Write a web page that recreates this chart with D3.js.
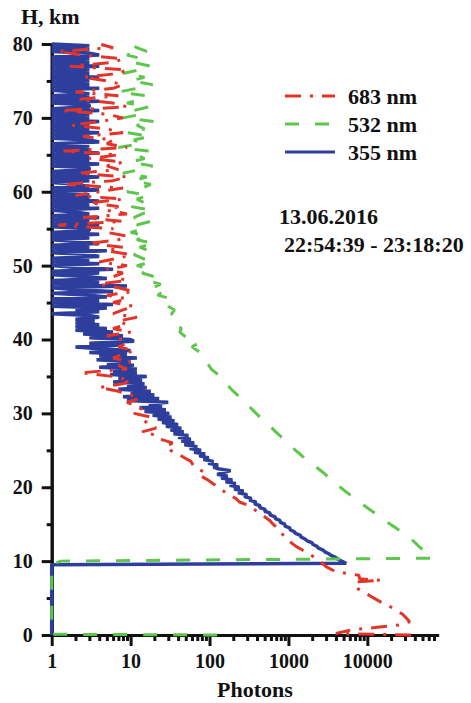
<!DOCTYPE html>
<html>
<head>
<meta charset="utf-8">
<script src="https://cdn.jsdelivr.net/npm/d3@7"></script>
<style>
  body { margin: 0; background: #fff; }
  svg { display: block; }
  text { font-family: "Liberation Serif", "Times New Roman", serif; font-weight: bold; fill: #111; }
</style>
</head>
<body>
<div id="chart"></div>
<script>
// Lidar photon-count profiles.
const seriesNames = ["683 nm", "532 nm", "355 nm"];
const xTickValues = [1, 10, 100, 1000, 10000];
const yTickValues = [0, 10, 20, 30, 40, 50, 60, 70, 80];
const dateLabel = "13.06.2016";
const timeLabel = "22:54:39 - 23:18:20";

// 355 nm: a few points below 10 km, then a 0.25 km grid from 10 to 80 km
const blueLowH = [0, 9.5, 9.7];
const blueLowP = [1, 1, 5400];
const blueGridStart = 10, blueGridStep = 0.25;
const blueGrid = [
  4700, 4250, 3950, 3500, 3250, 2900, 2750, 2400,   // 10
  2300, 2050, 1980, 1720, 1620, 1450, 1420, 1230,   // 12
  1180, 1050, 1040, 900, 900, 790, 780, 680,        // 14
  680, 580, 590, 500, 510, 430, 440, 370,           // 16
  390, 320, 340, 275, 300, 230, 270, 205,           // 18
  240, 180, 215, 160, 195, 140, 170, 125,           // 20
  150, 185, 128, 112, 128, 96, 112, 84,             // 22
  98, 74, 88, 64, 78, 56, 70, 48,                   // 24
  64, 44, 58, 40, 54, 35, 47, 32,                   // 26
  44, 28, 40, 25, 36, 22, 33, 19,                   // 28
  31, 15, 28, 13, 25, 17, 30, 9,                    // 30
  23, 8, 20, 10, 18, 7, 16, 9,                      // 32
  15, 6, 14, 7, 16, 5.5, 12, 6,                     // 34
  12, 4, 11, 5, 10, 3.7, 12, 4,                     // 36
  9, 3, 10, 4, 2, 8, 3, 11,                         // 38
  10, 3, 8, 2.5, 6, 2, 5, 2,                        // 40
  4, 2, 3.5, 2, 4, 3, 1, 4,                         // 42
  2, 5, 1, 6, 1, 4, 1, 5,                           // 44
  3, 1, 6, 2, 1, 9, 1, 4,                           // 46
  1, 5, 3, 1, 4, 1, 6, 2,                           // 48
  1, 4, 1, 3, 1, 4, 3, 1,                           // 50
  5, 1, 3, 1, 4, 2, 1, 3,                           // 52
  1, 4, 1, 3, 3, 1, 4, 1,                           // 54
  3, 1, 4, 1, 3, 2, 1, 4,                           // 56
  1, 3, 1, 4, 1, 3, 1, 3,                           // 58
  1, 4, 1, 3, 2, 1, 3, 1,                           // 60
  4, 1, 3, 1, 3, 3, 1, 4,                           // 62
  1, 3, 1, 3, 1, 4, 1, 3,                           // 64
  1, 3, 1, 4, 3, 1, 3, 1,                           // 66
  4, 1, 3, 1, 3, 1, 4, 1,                           // 68
  3, 1, 3, 1, 4, 1, 3, 3,                           // 70
  1, 4, 1, 3, 1, 3, 2, 1,                           // 72
  4, 1, 3, 1, 3, 1, 4, 1,                           // 74
  3, 1, 3, 1, 4, 1, 3, 1,                           // 76
  3, 1, 4, 3, 1, 3, 1, 3,                           // 78
  1                                                 // 80
];

// 683 nm: near-ground points, then a 0.5 km grid from 10 to 80 km
const redLowH = [0, 0.2, 0.7, 1.0, 1.35, 1.8, 2.8, 3.6, 4.3, 5.2, 5.9, 6.5, 7.2, 7.4, 7.6, 8.1, 8.3, 8.6, 9.25];
const redLowP = [36000, 4000, 6300, 12400, 25000, 34500, 28000, 21500, 15800, 11200, 8700, 6900, 7500, 15000, 8000, 7800, 5700, 3900, 3000];
const redGridStart = 10, redGridStep = 0.5;
const redGrid = [
  2500, 2150, 1800, 1500, 1250, 1080, 940, 860, 800, 720,   // 10
  640, 580, 500, 430, 370, 320, 240, 215, 170, 150,         // 15
  130, 110, 95, 78, 88, 70, 62, 58, 48, 40,                 // 20
  32, 28, 34, 24, 22, 14, 21, 17, 15, 18,                   // 25
  11, 14, 12, 9, 13, 10, 7, 4, 8, 10,                       // 30
  6, 2.3, 9, 7, 10, 6, 8, 11, 7, 9,                         // 35
  8, 5, 10, 6, 9, 7, 12, 6, 8, 11,                          // 40
  6, 9, 5, 11, 7, 4, 9, 6, 8, 5,                            // 45
  9, 4, 7, 10, 5, 8, 3, 7, 9, 5,                            // 50
  6, 1.2, 8, 2.5, 9, 5, 7, 3, 8, 2,                         // 55
  4, 8, 1.5, 6, 9, 2.2, 7, 5, 8, 3,                         // 60
  7, 1.4, 9, 5, 6, 2.5, 8, 5, 1.8, 4,                       // 65
  8, 5, 1.3, 9, 6, 2.2, 7, 2, 6, 8,                         // 70
  5, 2.5, 7, 9, 1.7, 6, 8, 2.4, 1.2, 6,                     // 75
  4                                                         // 80
];

// 532 nm: near-ground points, then a 0.5 km grid from 15 to 80 km
const greenLowH = [0, 0.1, 9.5, 10.0, 10.4, 11, 12, 13, 14, 14.5];
const greenLowP = [125, 1, 1, 1.3, 67000, 58000, 45000, 36000, 27000, 23000];
const greenGridStart = 15, greenGridStep = 0.5;
const greenGrid = [
  19500, 16800, 14400, 12500, 10700, 9200, 7950, 6900, 6000, 5200,  // 15
  4550, 4000, 3500, 3100, 2750, 2400, 2100, 1850, 1580, 1400,       // 20
  1230, 1100, 980, 870, 780, 690, 620, 550, 490, 435,               // 25
  390, 350, 315, 285, 250, 225, 200, 180, 165, 150,                 // 30
  138, 120, 105, 98, 92, 87, 82, 70, 60, 72,                        // 35
  55, 48, 42, 44, 38, 40, 35, 33, 36, 30,                           // 40
  28, 33, 22, 26, 19, 24, 16, 20, 14, 18,                           // 45
  12, 19, 14, 11, 17, 13, 20, 12, 16, 10,                           // 50
  15, 12, 18, 11, 14, 19, 10, 15, 12, 17,                           // 55
  9, 14, 18, 11, 16, 8, 13, 19, 10, 15,                             // 60
  12, 17, 7, 14, 11, 18, 9, 15, 12, 20,                             // 65
  8, 14, 11, 17, 9, 13, 16, 7, 12, 19,                              // 70
  10, 15, 8, 13, 18, 11, 14, 9, 16, 12,                             // 75
  10                                                                // 80
];

const colors = {"683 nm": "#e3342a", "532 nm": "#5ec64c", "355 nm": "#2e3e9d"};
const dashes = {"683 nm": "16,9,3,9", "532 nm": "14,16", "355 nm": null};
const widths = {"683 nm": 3, "532 nm": 3, "355 nm": 3.5};

const width = 471, height = 703;
const plotLeft = 51.7, plotRight = 438.6, plotTop = 44, plotBottom = 635;

function buildProfile(lowH, lowP, start, step, grid) {
  const pts = lowH.map((h, i) => ({h: h, p: lowP[i]}));
  grid.forEach((p, i) => pts.push({h: start + i * step, p: p}));
  return pts;
}

const profiles = {
  "355 nm": buildProfile(blueLowH, blueLowP, blueGridStart, blueGridStep, blueGrid),
  "532 nm": buildProfile(greenLowH, greenLowP, greenGridStart, greenGridStep, greenGrid),
  "683 nm": buildProfile(redLowH, redLowP, redGridStart, redGridStep, redGrid)
};

const svg = d3.select("#chart").append("svg")
    .attr("width", width)
    .attr("height", height);

const x = d3.scaleLog().domain([1, 80000]).range([plotLeft, plotRight]);
const y = d3.scaleLinear().domain([0, 80]).range([plotBottom, plotTop]);

// minor ticks
const xMinor = [];
[1, 10, 100, 1000, 10000].forEach(d => {
  for (let k = 2; k <= 9; k++) if (d * k < 80000) xMinor.push(d * k);
});
const yMinor = yTickValues.slice(0, -1).map(v => v + 5);

function styleAxis(g) {
  g.select(".domain").attr("stroke", "#111").attr("stroke-width", 3);
  g.selectAll(".tick line").attr("stroke", "#111").attr("stroke-width", 3);
  g.selectAll(".tick text").style("font-size", "20px").attr("fill", "#111");
}

svg.append("g")
    .attr("transform", `translate(0,${plotBottom})`)
    .call(d3.axisBottom(x).tickValues(xMinor).tickSize(6).tickSizeOuter(0).tickFormat(""))
    .call(styleAxis);

svg.append("g")
    .attr("transform", `translate(0,${plotBottom})`)
    .call(d3.axisBottom(x).tickValues(xTickValues).tickSize(11).tickSizeOuter(0)
      .tickPadding(8).tickFormat(d3.format("d")))
    .call(styleAxis);

svg.append("g")
    .attr("transform", `translate(${plotLeft},0)`)
    .call(d3.axisLeft(y).tickValues(yMinor).tickSize(5).tickSizeOuter(0).tickFormat(""))
    .call(styleAxis);

svg.append("g")
    .attr("transform", `translate(${plotLeft},0)`)
    .call(d3.axisLeft(y).tickValues(yTickValues).tickSize(10).tickSizeOuter(0).tickPadding(9))
    .call(styleAxis);

// profiles (blue first, red on top)
const line = d3.line()
    .x(d => x(d.p))
    .y(d => y(d.h));

["355 nm", "532 nm", "683 nm"].forEach(name => {
  svg.append("path")
      .datum(profiles[name])
      .attr("fill", "none")
      .attr("stroke", colors[name])
      .attr("stroke-width", widths[name])
      .attr("stroke-linejoin", "bevel")
      .attr("stroke-dasharray", dashes[name])
      .attr("d", line);
});

// axis titles
svg.append("text")
    .attr("x", 21).attr("y", 24)
    .style("font-size", "22px")
    .text("H, km");

svg.append("text")
    .attr("x", 255).attr("y", 697)
    .attr("text-anchor", "middle")
    .style("font-size", "22px")
    .text("Photons");

// legend
const legend = svg.append("g");
seriesNames.forEach((name, i) => {
  const ly = 96 + i * 28;
  legend.append("line")
      .attr("x1", 285).attr("x2", 335)
      .attr("y1", ly).attr("y2", ly)
      .attr("stroke", colors[name])
      .attr("stroke-width", 3)
      .attr("stroke-dasharray", dashes[name]);
  legend.append("text")
      .attr("x", 348).attr("y", ly + 7.5)
      .style("font-size", "22px")
      .text(name);
});

svg.append("text")
    .attr("x", 279).attr("y", 224)
    .style("font-size", "22px")
    .text(dateLabel);

svg.append("text")
    .attr("x", 284).attr("y", 252)
    .style("font-size", "22px")
    .text(timeLabel);
</script>
</body>
</html>
